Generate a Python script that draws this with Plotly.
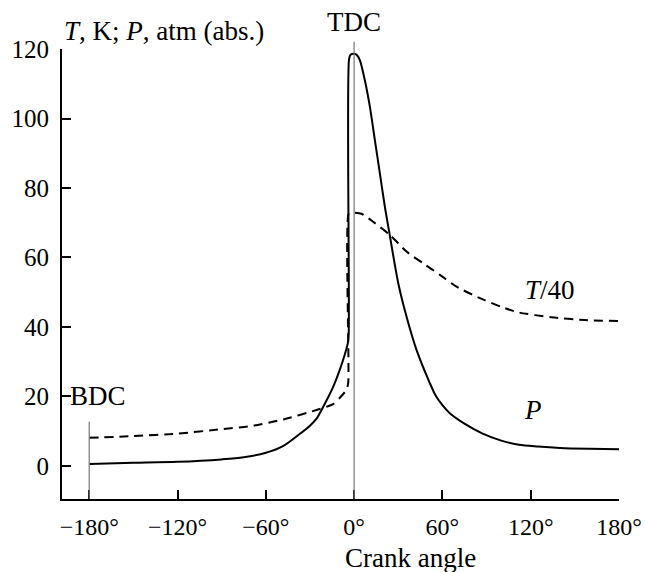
import plotly.graph_objects as go

# Pressure P (atm abs.) vs crank angle (deg)
p_angle = [-180, -150, -120, -90, -75, -60, -48, -37, -30, -25.4, -18.6, -14, -11, -7.5, -4.3, -3.7,
           -3.5, -2.5, 0, 2, 3.9, 7.3, 10.7, 14.1, 17.5, 20.9, 24, 30, 35.6, 42.4, 51.5, 55.5, 60, 65,
           75, 87, 100, 112, 125, 140, 160, 180]
p_value = [0.6, 0.9, 1.2, 1.9, 2.5, 3.8, 5.8, 9.2, 11.6, 13.7, 19.0, 23.0, 26.2, 30.5, 35.3, 38.0,
           116.8, 118.3, 118.6, 118.2, 116.8, 111.0, 103.4, 93.8, 84.2, 74.6, 67.0, 52.6, 43.0, 33.4, 23.8, 20.2,
           17.5, 15.2, 12.2, 9.4, 7.3, 6.1, 5.6, 5.2, 4.95, 4.8]

# Temperature T/40 vs crank angle (deg)
t_angle = [-180, -150, -120, -90, -70, -48, -25.6, -14.3, -10, -5.2, -4.0, -3.8, -2, 0, 5, 12.9, 24.3,
           35.6, 47, 58.3, 69.6, 85.5, 100, 111.7, 134, 156.8, 180]
t_value = [8.1, 8.6, 9.3, 10.6, 11.5, 13.4, 16.1, 17.8, 19.5, 21.9, 24.0, 72.5, 72.9, 72.9, 72.6, 70.3, 66.5,
           61.7, 58.3, 55.0, 51.6, 48.3, 45.8, 44.2, 42.8, 42.0, 41.7]

x_tickvals = [-180, -120, -60, 0, 60, 120, 180]
x_ticktext = ["\u2212180°", "\u2212120°", "\u221260°", "0°", "60°", "120°", "180°"]
y_tickvals = [0, 20, 40, 60, 80, 100, 120]

bdc_angle, bdc_top = -180, 12.7
tdc_angle = 0

FONT = "Liberation Serif"

fig = go.Figure()
fig.add_trace(go.Scatter(x=t_angle, y=t_value, mode="lines",
                         line=dict(color="black", width=2, dash="9px,6px", shape="spline", smoothing=0.6),
                         showlegend=False, hoverinfo="skip"))
fig.add_trace(go.Scatter(x=p_angle, y=p_value, mode="lines",
                         line=dict(color="black", width=2, shape="spline", smoothing=0.8),
                         showlegend=False, hoverinfo="skip"))

# BDC and TDC markers
fig.add_shape(type="line", xref="x", yref="y", x0=bdc_angle, x1=bdc_angle, y0=-9.5, y1=bdc_top,
              line=dict(color="#777777", width=1.2))
fig.add_shape(type="line", xref="x", yref="paper", x0=tdc_angle, x1=tdc_angle, y0=0, y1=1.016,
              line=dict(color="#777777", width=1.2))

ann_font = dict(family=FONT, size=27, color="black")
fig.add_annotation(x=0, y=1.04, xref="paper", yref="paper", xanchor="left", yanchor="middle",
                   text="<i>T</i>, K; <i>P</i>, atm (abs.)", showarrow=False, font=ann_font)
fig.add_annotation(x=tdc_angle, y=1.059, xref="x", yref="paper", xanchor="center", yanchor="middle",
                   text="TDC", showarrow=False, font=ann_font)
fig.add_annotation(x=-174, y=20, xref="x", yref="y", xanchor="center", yanchor="middle",
                   text="BDC", showarrow=False, font=ann_font)
fig.add_annotation(x=133, y=50.6, xref="x", yref="y", xanchor="center", yanchor="middle",
                   text="<i>T</i>/40", showarrow=False, font=ann_font)
fig.add_annotation(x=121.6, y=16.1, xref="x", yref="y", xanchor="center", yanchor="middle",
                   text="<i>P</i>", showarrow=False, font=ann_font)
fig.add_annotation(x=0.625, y=-0.13, xref="paper", yref="paper", xanchor="center", yanchor="middle",
                   text="Crank angle", showarrow=False, font=ann_font)

fig.update_xaxes(range=[-198.5, 180], tickvals=x_tickvals, ticktext=x_ticktext, automargin=False,
                 showline=True, linecolor="black", linewidth=2, ticks="inside", ticklen=9,
                 tickwidth=2, tickcolor="black", showgrid=False, zeroline=False, ticklabelstandoff=5,
                 tickfont=dict(family=FONT, size=24, color="black"))
fig.update_yaxes(range=[-9.5, 120], tickvals=y_tickvals, automargin=False,
                 showline=True, linecolor="black", linewidth=2, ticks="inside", ticklen=9,
                 tickwidth=2, tickcolor="black", showgrid=False, zeroline=False, ticklabelstandoff=6,
                 tickfont=dict(family=FONT, size=25, color="black"))

fig.update_layout(width=645, height=572, margin=dict(l=62, r=26, t=49, b=73),
                  plot_bgcolor="white", paper_bgcolor="white", showlegend=False, hovermode=False)

fig.write_html("out.html", config={"displayModeBar": False},
               post_script="document.body.style.margin='0';document.body.style.overflow='hidden';")
